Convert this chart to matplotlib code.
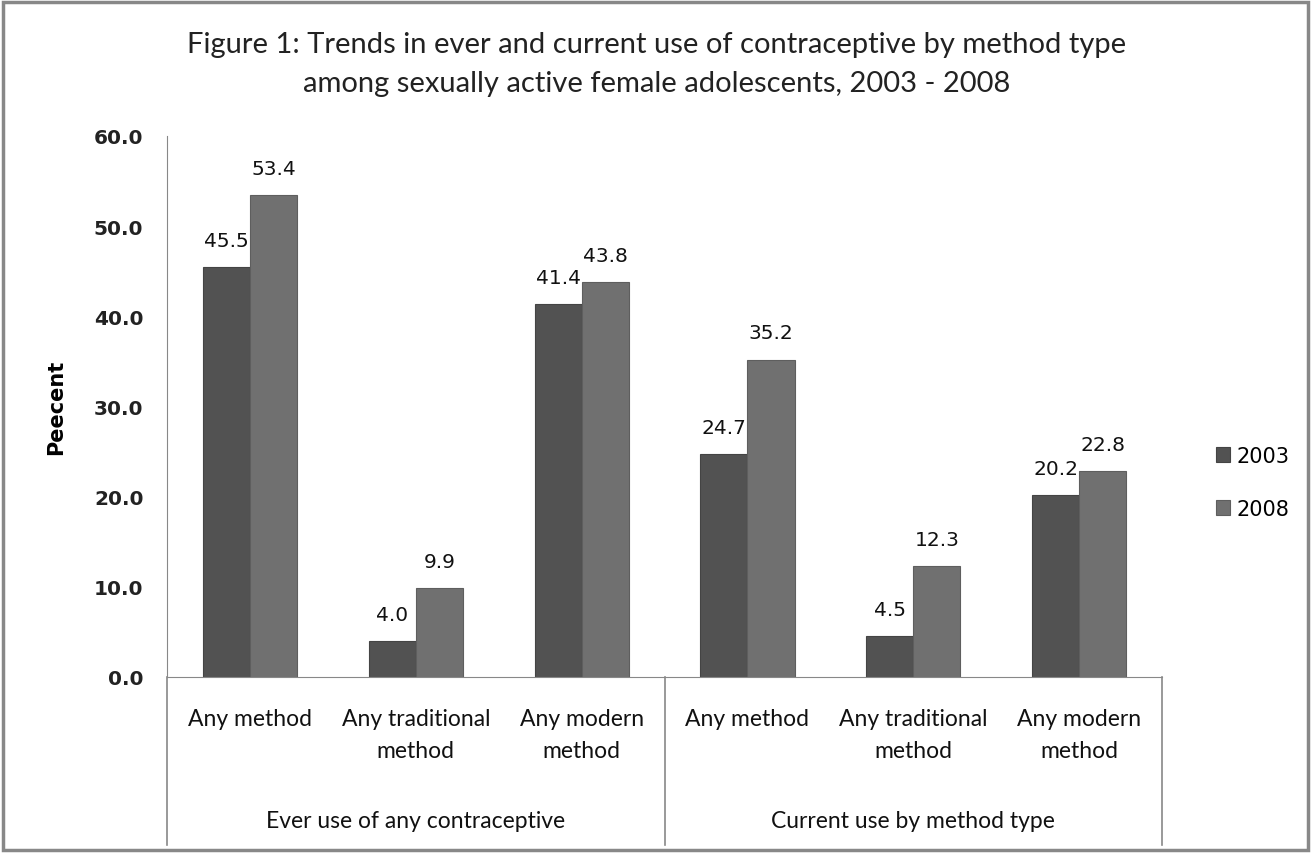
import matplotlib
matplotlib.use('Agg')
import matplotlib.pyplot as plt
import matplotlib.transforms as mtransforms
from matplotlib.patches import Rectangle
import numpy as np

methods=['Any method','Any traditional\nmethod','Any modern\nmethod',
         'Any method','Any traditional\nmethod','Any modern\nmethod']
groups=['Ever use of any contraceptive','Current use by method type']
years=['2003','2008']
use_2003=[45.5,4.0,41.4,24.7,4.5,20.2]
use_2008=[53.4,9.9,43.8,35.2,12.3,22.8]

c2003='#525252'
c2008='#707070'

fig=plt.figure(figsize=(13.11,8.54),dpi=100)
ax=fig.add_axes([0.1274,0.2061,0.759,0.6335])

x=np.arange(len(methods))
w=0.284
b1=ax.bar(x-w/2,use_2003,w,color=c2003,edgecolor='#444444',linewidth=0.8,label=years[0])
b2=ax.bar(x+w/2,use_2008,w,color=c2008,edgecolor='#5e5e5e',linewidth=0.8,label=years[1])

for bars in (b1,b2):
    for r in bars:
        h=r.get_height()
        ax.text(r.get_x()+r.get_width()/2,h+1.9,'%.1f'%h,ha='center',va='bottom',
                fontsize=14.5,color='#111111')

ax.set_xlim(-0.5,5.5)
ax.set_ylim(0,60)
ax.set_yticks(np.arange(0,61,10))
ax.set_yticklabels(['%.1f'%v for v in np.arange(0,61,10)],fontsize=14.5,
                   fontweight='bold',color='#222222')
ax.tick_params(axis='y',length=0,pad=17)
ax.set_xticks([])
for s in ['top','right']:
    ax.spines[s].set_visible(False)
ax.spines['left'].set_color('#888888')
ax.spines['bottom'].set_color('#888888')
ax.set_ylabel('Peecent',fontsize=15,fontweight='bold',labelpad=20)

# two-level category labels under the axis
trans=mtransforms.blended_transform_factory(ax.transData,ax.transAxes)
for i,m in enumerate(methods):
    ax.text(i,-0.058,m,transform=trans,ha='center',va='top',fontsize=16.5,
            family='Lato',linespacing=1.6,color='#111111')
for j,g in enumerate(groups):
    ax.text(j*3+1,-0.245,g,transform=trans,ha='center',va='top',fontsize=16.5,
            family='Lato',color='#111111')
for xd in [-0.5,2.5,5.5]:
    ax.plot([xd,xd],[0,-0.31],transform=trans,color='#888888',lw=1.2,clip_on=False)

ax.legend(loc='center left',bbox_to_anchor=(1.035,0.36),frameon=False,fontsize=15,
          handlelength=0.7,handleheight=0.7,handletextpad=0.3,labelspacing=1.6)

fig.text(0.501,0.962,'Figure 1: Trends in ever and current use of contraceptive by method type\n'
         'among sexually active female adolescents, 2003 - 2008',
         ha='center',va='top',fontsize=21,family='Lato',linespacing=1.6,color='#222222')

fig.patches.append(Rectangle((0.002,0.004),0.996,0.992,transform=fig.transFigure,
                             fill=False,edgecolor='#888888',lw=2.5))

plt.savefig('out.png',dpi=100)
